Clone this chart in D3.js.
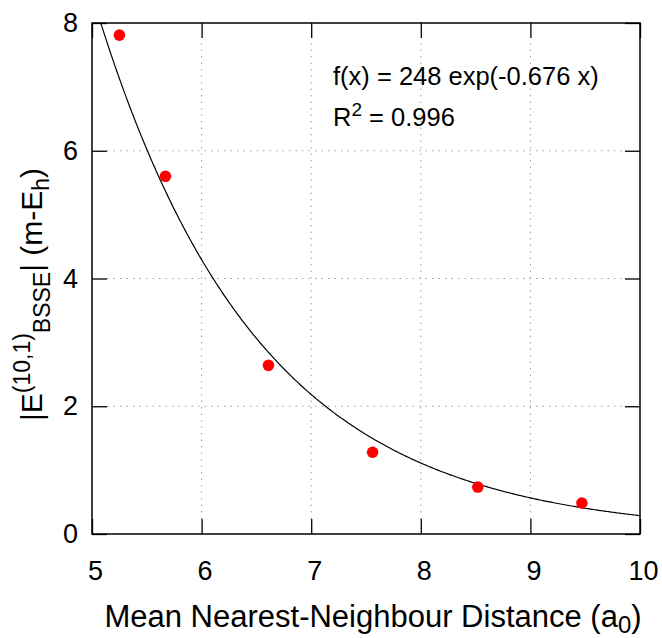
<!DOCTYPE html>
<html>
<head>
<meta charset="utf-8">
<script src="https://cdn.jsdelivr.net/npm/d3@7"></script>
<style>
  body { margin: 0; background: #fff; }
  svg text { font-family: "Liberation Sans", Arial, Helvetica, sans-serif; fill: #000; }
</style>
</head>
<body>
<svg width="662" height="638"></svg>
<script>
// measured points
const distances = [5.25, 5.67, 6.61, 7.56, 8.52, 9.47];
const energies = [7.81, 5.60, 2.64, 1.28, 0.735, 0.485];

// fit f(x) = a exp(b x)
const fitA = 248, fitB = -0.676;

const xTicks = [5, 6, 7, 8, 9, 10];
const yTicks = [0, 2, 4, 6, 8];

const svg = d3.select('svg');

const margin = {left: 92, right: 22, top: 23, bottom: 104};
const width = 662 - margin.left - margin.right,
      height = 638 - margin.top - margin.bottom;

const x = d3.scaleLinear().domain([5, 10]).range([margin.left, margin.left + width]);
const y = d3.scaleLinear().domain([0, 8]).range([margin.top + height, margin.top]);

const tickLen = 15;

// grid
const grid = svg.append('g').attr('class', 'grid')
  .attr('stroke', '#a0a0a0')
  .attr('stroke-width', 1)
  .attr('stroke-dasharray', '1.5,5');

grid.selectAll('line.gx')
  .data(xTicks.slice(1, -1))
  .enter()
  .append('line')
  .attr('x1', d => x(d)).attr('x2', d => x(d))
  .attr('y1', y(0) - tickLen).attr('y2', y(8) + tickLen);

grid.selectAll('line.gy')
  .data(yTicks.slice(1, -1))
  .enter()
  .append('line')
  .attr('y1', d => y(d)).attr('y2', d => y(d))
  .attr('x1', x(5) + tickLen).attr('x2', x(10) - tickLen);

// axes with inward ticks, mirrored
const axisFont = '27px';
const fmt = d3.format('d');

const axisB = svg.append('g')
  .attr('transform', `translate(0, ${y(0)})`)
  .call(d3.axisBottom(x).tickValues(xTicks).tickFormat(fmt).tickSizeInner(-tickLen).tickSizeOuter(0).tickPadding(27));
const axisT = svg.append('g')
  .attr('transform', `translate(0, ${y(8)})`)
  .call(d3.axisTop(x).tickValues(xTicks).tickSizeInner(-tickLen).tickSizeOuter(0).tickFormat(''));
const axisL = svg.append('g')
  .attr('transform', `translate(${x(5)}, 0)`)
  .call(d3.axisLeft(y).tickValues(yTicks).tickFormat(fmt).tickSizeInner(-tickLen).tickSizeOuter(0).tickPadding(14));
const axisR = svg.append('g')
  .attr('transform', `translate(${x(10)}, 0)`)
  .call(d3.axisRight(y).tickValues(yTicks).tickSizeInner(-tickLen).tickSizeOuter(0).tickFormat(''));

[axisB, axisT, axisL, axisR].forEach(g => {
  g.select('.domain').remove();
  g.selectAll('line').attr('stroke', '#000').attr('stroke-width', 1.3);
  g.selectAll('text').style('font-size', axisFont).attr('font-family', null);
});
axisB.selectAll('text').attr('dx', 3);

// border
svg.append('rect')
  .attr('x', x(5)).attr('y', y(8))
  .attr('width', x(10) - x(5)).attr('height', y(0) - y(8))
  .attr('fill', 'none').attr('stroke', '#000').attr('stroke-width', 1.5);

// fit curve
const curveData = d3.range(0, 401).map(i => 5 + i * 5 / 400)
  .map(v => [v, fitA * Math.exp(fitB * v)])
  .filter(d => d[1] <= 8.05);

svg.append('defs').append('clipPath').attr('id', 'clip')
  .append('rect')
  .attr('x', x(5)).attr('y', y(8))
  .attr('width', x(10) - x(5)).attr('height', y(0) - y(8));

svg.append('path')
  .datum(curveData)
  .attr('clip-path', 'url(#clip)')
  .attr('fill', 'none')
  .attr('stroke', '#000')
  .attr('stroke-width', 1.2)
  .attr('d', d3.line().x(d => x(d[0])).y(d => y(d[1])));

// points
svg.append('g')
  .selectAll('circle')
  .data(distances)
  .enter()
  .append('circle')
  .attr('cx', d => x(d))
  .attr('cy', (d, i) => y(energies[i]))
  .attr('r', 5.8)
  .attr('fill', '#ff0000');

// fit annotation
svg.append('text')
  .attr('x', 333).attr('y', 85)
  .style('font-size', '25.5px')
  .text(`f(x) = ${fitA} exp(${fitB} x)`);

const r2 = svg.append('text')
  .attr('x', 333).attr('y', 126)
  .style('font-size', '25.5px');
r2.append('tspan').text('R');
r2.append('tspan').attr('dy', -10).style('font-size', '19px').text('2');
r2.append('tspan').attr('dy', 10).text(' = 0.996');

// x label
const xl = svg.append('text')
  .attr('x', x(7.5) + 7).attr('y', 627)
  .attr('text-anchor', 'middle')
  .style('font-size', '31px');
xl.append('tspan').text('Mean Nearest-Neighbour Distance (a');
xl.append('tspan').attr('dy', 6).style('font-size', '24px').text('0');
xl.append('tspan').attr('dy', -6).text(')');

// y label
const yl = svg.append('text')
  .attr('transform', `translate(42, ${y(3.75)}) rotate(-90)`)
  .attr('text-anchor', 'middle')
  .style('font-size', '30px');
yl.append('tspan').text('|E');
yl.append('tspan').attr('dy', -12).style('font-size', '23px').text('(10,1)');
yl.append('tspan').attr('dy', 20).style('font-size', '23px').text('BSSE');
yl.append('tspan').attr('dy', -8).text('| (m-E');
yl.append('tspan').attr('dy', 7).style('font-size', '23px').text('h');
yl.append('tspan').attr('dy', -7).text(')');
</script>
</body>
</html>
